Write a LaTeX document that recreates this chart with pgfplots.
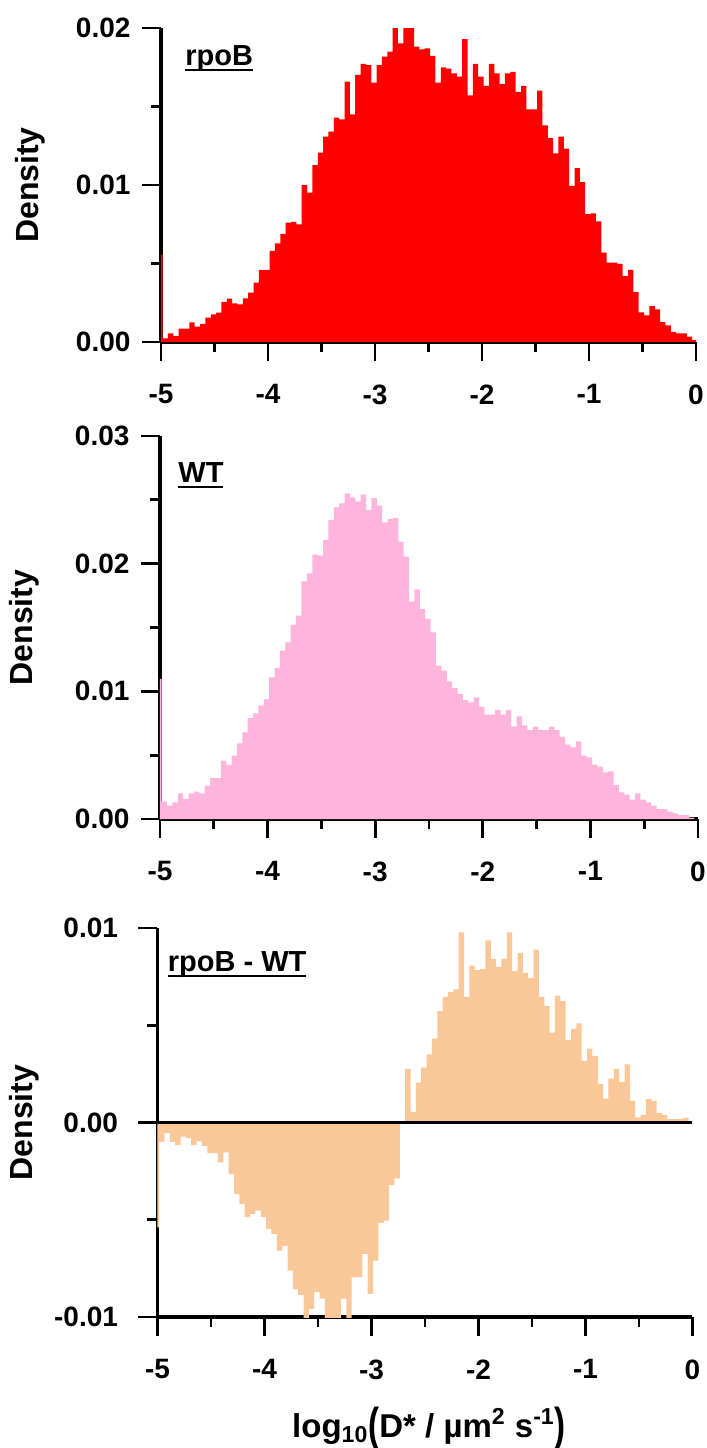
\documentclass[border=0pt]{standalone}
\usepackage{fontspec}
\setmainfont{Liberation Sans}
\usepackage{graphicx}
\usepackage{pgfplots}
\usepackage{pgfplotstable}
\pgfplotsset{compat=1.18}
\definecolor{barred}{RGB}{255,0,0}
\definecolor{barpink}{RGB}{255,180,220}
\definecolor{barpeach}{RGB}{250,200,152}
\newcommand\ul[1]{\setbox0\hbox{#1}\rlap{\rule[-3pt]{\wd0}{1pt}}\box0}

\pgfplotstableread{
x y
-5.000 0.00554
-4.985 0.00023
-4.935 0.00055
-4.885 0.00038
-4.835 0.00085
-4.785 0.00085
-4.735 0.00125
-4.685 0.00098
-4.635 0.00115
-4.585 0.00155
-4.535 0.00176
-4.485 0.00187
-4.435 0.00255
-4.385 0.00276
-4.335 0.00246
-4.285 0.00240
-4.235 0.00278
-4.185 0.00314
-4.135 0.00378
-4.085 0.00459
-4.035 0.00459
-3.985 0.00580
-3.935 0.00628
-3.885 0.00688
-3.835 0.00760
-3.785 0.00766
-3.735 0.00749
-3.685 0.01000
-3.635 0.00951
-3.585 0.01127
-3.535 0.01206
-3.485 0.01308
-3.435 0.01340
-3.385 0.01429
-3.335 0.01418
-3.285 0.01658
-3.235 0.01450
-3.185 0.01701
-3.135 0.01771
-3.085 0.01764
-3.035 0.01652
-2.985 0.01764
-2.935 0.01817
-2.885 0.01849
-2.835 0.02000
-2.785 0.01902
-2.735 0.02000
-2.685 0.02000
-2.635 0.01881
-2.585 0.01864
-2.535 0.01870
-2.485 0.01822
-2.435 0.01652
-2.385 0.01749
-2.335 0.01741
-2.285 0.01711
-2.235 0.01690
-2.185 0.01930
-2.135 0.01571
-2.085 0.01771
-2.035 0.01690
-1.985 0.01631
-1.935 0.01771
-1.885 0.01711
-1.835 0.01643
-1.785 0.01711
-1.735 0.01720
-1.685 0.01592
-1.635 0.01631
-1.585 0.01482
-1.535 0.01482
-1.485 0.01601
-1.435 0.01380
-1.385 0.01299
-1.335 0.01202
-1.285 0.01308
-1.235 0.01231
-1.185 0.00994
-1.135 0.01108
-1.085 0.01019
-1.035 0.00815
-0.985 0.00820
-0.935 0.00769
-0.885 0.00569
-0.835 0.00505
-0.785 0.00505
-0.735 0.00497
-0.685 0.00420
-0.635 0.00459
-0.585 0.00318
-0.535 0.00189
-0.485 0.00170
-0.435 0.00229
-0.385 0.00208
-0.335 0.00127
-0.285 0.00106
-0.235 0.00064
-0.185 0.00055
-0.135 0.00055
-0.085 0.00034
-0.035 0.00013
0.015 0.00013
}\rpob

\pgfplotstableread{
x y
-5.000 0.01097
-4.985 0.00136
-4.935 0.00104
-4.885 0.00131
-4.835 0.00201
-4.785 0.00157
-4.735 0.00201
-4.685 0.00214
-4.635 0.00201
-4.585 0.00261
-4.535 0.00321
-4.485 0.00321
-4.435 0.00457
-4.385 0.00423
-4.335 0.00496
-4.285 0.00593
-4.235 0.00679
-4.185 0.00791
-4.135 0.00828
-4.085 0.00888
-4.035 0.00940
-3.985 0.01110
-3.935 0.01183
-3.885 0.01319
-3.835 0.01384
-3.785 0.01520
-3.735 0.01593
-3.685 0.01862
-3.635 0.01924
-3.585 0.02071
-3.535 0.02063
-3.485 0.02185
-3.435 0.02342
-3.385 0.02441
-3.335 0.02473
-3.285 0.02551
-3.235 0.02520
-3.185 0.02488
-3.135 0.02541
-3.085 0.02420
-3.035 0.02514
-2.985 0.02454
-2.935 0.02324
-2.885 0.02350
-2.835 0.02358
-2.785 0.02172
-2.735 0.02055
-2.685 0.01705
-2.635 0.01799
-2.585 0.01645
-2.535 0.01567
-2.485 0.01462
-2.435 0.01201
-2.385 0.01162
-2.335 0.01078
-2.285 0.01026
-2.235 0.00979
-2.185 0.00932
-2.135 0.00914
-2.085 0.00953
-2.035 0.00880
-1.985 0.00817
-1.935 0.00817
-1.885 0.00854
-1.835 0.00817
-1.785 0.00854
-1.735 0.00723
-1.685 0.00804
-1.635 0.00734
-1.585 0.00697
-1.535 0.00723
-1.485 0.00697
-1.435 0.00697
-1.385 0.00723
-1.335 0.00697
-1.285 0.00645
-1.235 0.00582
-1.185 0.00561
-1.135 0.00608
-1.085 0.00496
-1.035 0.00483
-0.985 0.00426
-0.935 0.00410
-0.885 0.00366
-0.835 0.00373
-0.785 0.00266
-0.735 0.00209
-0.685 0.00191
-0.635 0.00151
-0.585 0.00201
-0.535 0.00151
-0.485 0.00131
-0.435 0.00104
-0.385 0.00078
-0.335 0.00078
-0.285 0.00057
-0.235 0.00044
-0.185 0.00031
-0.135 0.00031
-0.085 0.00010
-0.035 0.00000
0.015 0.00000
}\wt

\pgfplotstableread{
x y
-5.000 -0.00539
-4.985 -0.00099
-4.935 -0.00055
-4.885 -0.00099
-4.835 -0.00116
-4.785 -0.00072
-4.735 -0.00080
-4.685 -0.00116
-4.635 -0.00097
-4.585 -0.00120
-4.535 -0.00157
-4.485 -0.00157
-4.435 -0.00205
-4.385 -0.00154
-4.335 -0.00265
-4.285 -0.00368
-4.235 -0.00419
-4.185 -0.00487
-4.135 -0.00470
-4.085 -0.00453
-4.035 -0.00487
-3.985 -0.00547
-3.935 -0.00573
-3.885 -0.00658
-3.835 -0.00636
-3.785 -0.00761
-3.735 -0.00858
-3.685 -0.00886
-3.635 -0.01050
-3.585 -0.00958
-3.535 -0.00872
-3.485 -0.00906
-3.435 -0.01050
-3.385 -0.01050
-3.335 -0.01050
-3.285 -0.00906
-3.235 -0.01050
-3.185 -0.00795
-3.135 -0.00795
-3.085 -0.00675
-3.035 -0.00881
-2.985 -0.00710
-2.935 -0.00516
-2.885 -0.00504
-2.835 -0.00320
-2.785 -0.00287
-2.735 0.00000
-2.685 0.00274
-2.635 0.00055
-2.585 0.00205
-2.535 0.00282
-2.485 0.00351
-2.435 0.00431
-2.385 0.00573
-2.335 0.00646
-2.285 0.00670
-2.235 0.00684
-2.185 0.00978
-2.135 0.00646
-2.085 0.00807
-2.035 0.00783
-1.985 0.00790
-1.935 0.00937
-1.885 0.00841
-1.835 0.00800
-1.785 0.00841
-1.735 0.00978
-1.685 0.00778
-1.635 0.00872
-1.585 0.00770
-1.535 0.00744
-1.485 0.00889
-1.435 0.00646
-1.385 0.00599
-1.335 0.00462
-1.285 0.00653
-1.235 0.00624
-1.185 0.00424
-1.135 0.00482
-1.085 0.00510
-1.035 0.00316
-0.985 0.00380
-0.935 0.00342
-0.885 0.00197
-0.835 0.00123
-0.785 0.00226
-0.735 0.00274
-0.685 0.00209
-0.635 0.00299
-0.585 0.00111
-0.535 0.00026
-0.485 0.00039
-0.435 0.00120
-0.385 0.00111
-0.335 0.00048
-0.285 0.00038
-0.235 0.00017
-0.185 0.00017
-0.135 0.00017
-0.085 0.00024
-0.035 0.00009
0.015 0.00009
}\diff

\tikzset{ttl/.style={anchor=base west, font=\fontsize{14.5}{16}\selectfont\bfseries, inner sep=0pt}}
\pgfplotsset{
  hist/.style={
    scale only axis, xmin=-5, xmax=0,
    axis lines*=left,
    xtick={-5,-4,-3,-2,-1,0}, xticklabels={-5,-4,-3,-2,-1,0},
    minor xtick={-4.5,-3.5,-2.5,-1.5,-0.5},
    tick align=outside,
    major tick length=9.5pt, minor tick length=5pt,
    every tick/.style={black, line width=1.4pt},
    axis line style={black, line width=1.6pt},
    tick label style={font=\fontsize{14}{16}\selectfont\bfseries},
    xticklabel style={yshift=-8.2pt},
    yticklabel style={xshift=-2.25pt},
    scaled y ticks=false,
    ylabel={Density},
    ylabel style={font=\fontsize{16}{18}\selectfont\bfseries, anchor=center},
  },
}

\begin{document}
\begin{tikzpicture}
\begin{axis}[hist, at={(80.5pt,-171pt)}, anchor=south west,
  width=267.5pt, height=157pt, ymin=0, ymax=0.02,
  ytick={0,0.01,0.02}, yticklabels={0.00,0.01,0.02},
  minor ytick={0.005,0.015},
  ylabel style={at={([xshift=-65.25pt]axis description cs:0,0.5)}}]
\addplot[const plot, fill=barred, draw=none] table[x=x,y=y]{\rpob} \closedcycle;
\node[ttl] at ([xshift=12pt,yshift=-18.5pt]axis description cs:0,1) {\ul{rpoB}};
\end{axis}

\begin{axis}[hist, at={(80pt,-409.5pt)}, anchor=south west,
  width=269pt, height=191.5pt, ymin=0, ymax=0.03,
  ytick={0,0.01,0.02,0.03}, yticklabels={0.00,0.01,0.02,0.03},
  minor ytick={0.005,0.015,0.025},
  ylabel style={at={([xshift=-68pt]axis description cs:0,0.5)}}]
\addplot[const plot, fill=barpink, draw=none] table[x=x,y=y]{\wt} \closedcycle;
\node[ttl] at ([xshift=9pt,yshift=-23pt]axis description cs:0,1) {\ul{WT}};
\end{axis}

\begin{axis}[hist, at={(78.75pt,-658.5pt)}, anchor=south west,
  width=267.5pt, height=194.5pt, ymin=-0.01, ymax=0.01,
  ytick={-0.01,0,0.01}, yticklabels={-0.01,0.00,0.01},
  minor ytick={-0.005,0.005},
  yticklabel style={xshift=-4.5pt},
  ylabel style={at={([xshift=-66.75pt]axis description cs:0,0.5)}},
  xlabel={log\textsubscript{10}\raisebox{-0.12em}{\scalebox{1}[1.4]{(}}D* / µm\textsuperscript{2} s\textsuperscript{-1}\raisebox{-0.12em}{\scalebox{1}[1.4]{)}}},
  xlabel style={at={([xshift=2pt,yshift=-60pt]axis description cs:0.5,0)}, anchor=base, font=\fontsize{16.5}{18}\selectfont\bfseries}]
\addplot[const plot, fill=barpeach, draw=none] table[x=x,y=y]{\diff} \closedcycle;
\draw[black, line width=1.6pt] (axis cs:-5,0) -- (axis cs:0,0);
\node[ttl] at ([xshift=5pt,yshift=-21.5pt]axis description cs:0,1) {\ul{rpoB - WT}};
\end{axis}
\pgfresetboundingbox
\useasboundingbox (0,0) rectangle (353.5pt,-724pt);
\end{tikzpicture}
\end{document}
